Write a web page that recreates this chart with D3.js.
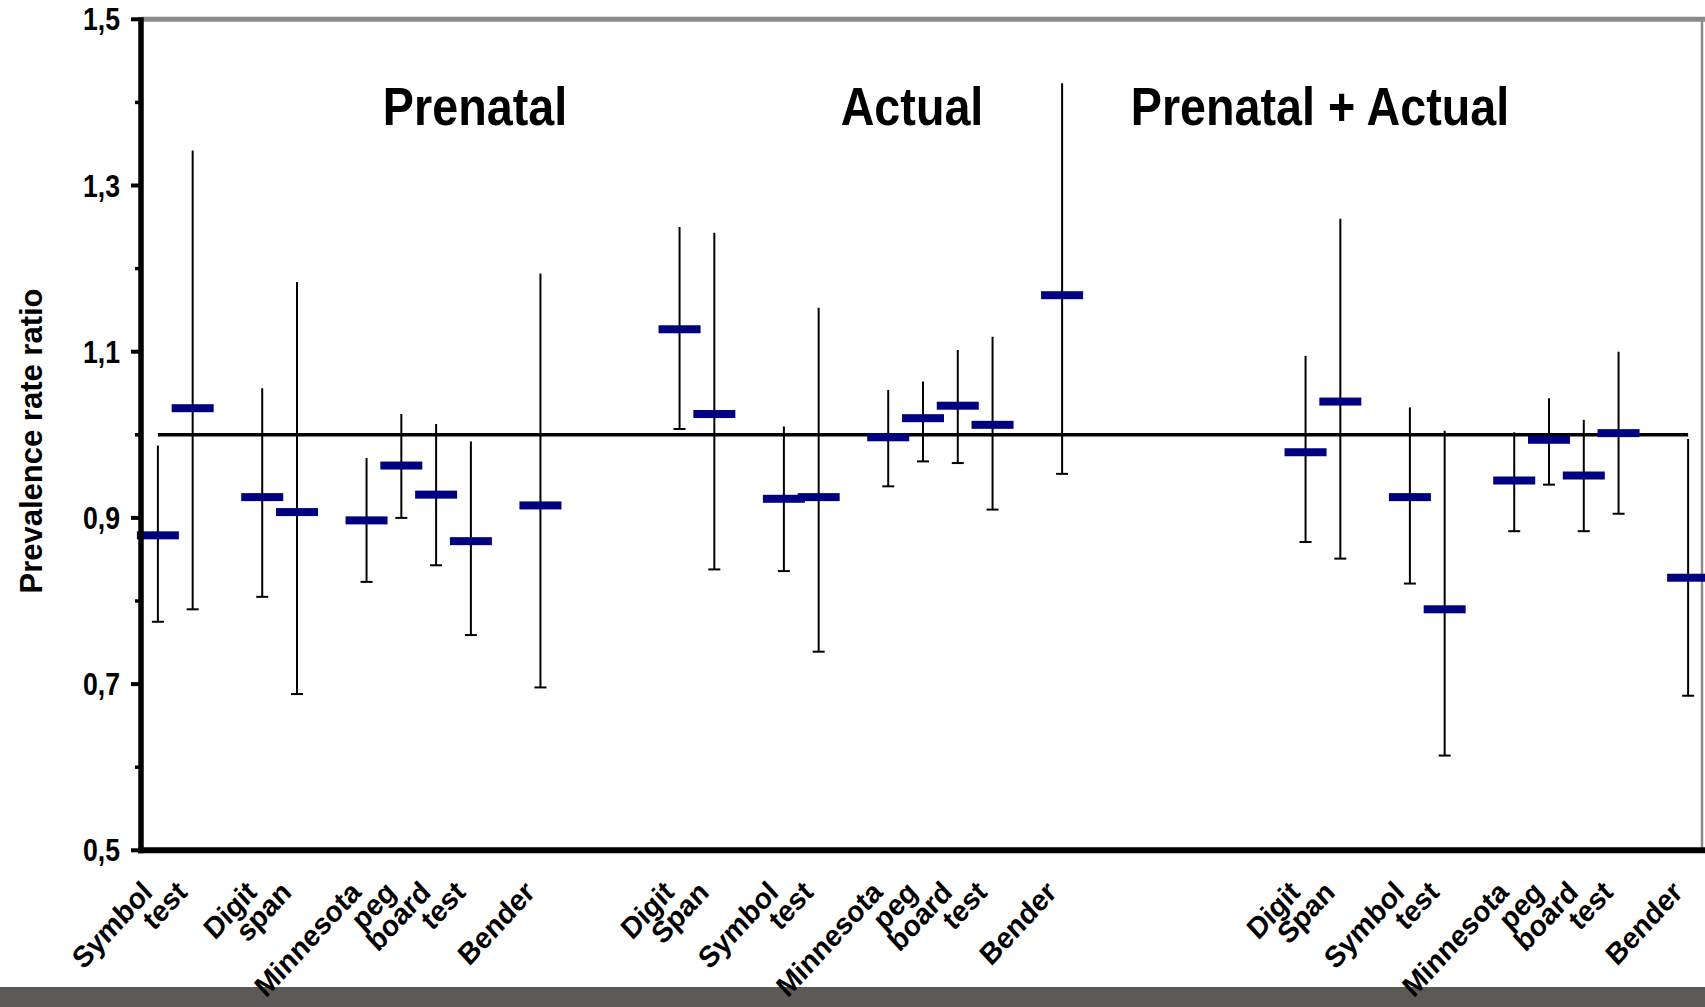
<!DOCTYPE html>
<html>
<head>
<meta charset="utf-8">
<script src="https://cdn.jsdelivr.net/npm/d3@7"></script>
<style>
  html, body { margin: 0; padding: 0; background: #fff; }
  svg { display: block; }
  text { font-family: "Liberation Sans", Arial, sans-serif; font-weight: bold; fill: #000; }
</style>
</head>
<body>
<svg id="chart" width="1705" height="1007"></svg>
<script>
// ---------- data ----------
const categories = ["Symbol","test","","Digit","span","","Minnesota","peg","board","test","","Bender",
  "","","","Digit","Span","","Symbol","test","","Minnesota","peg","board","test","","Bender",
  "","","","","","","Digit","Span","","Symbol","test","","Minnesota","peg","board","test","","Bender"];

const ratio = [0.879,1.032,null,0.925,0.907,null,0.897,0.963,0.928,0.872,null,0.915,
  null,null,null,1.127,1.025,null,0.923,0.925,null,0.997,1.020,1.035,1.012,null,1.168,
  null,null,null,null,null,null,0.979,1.040,null,0.925,0.790,null,0.945,0.994,0.951,1.002,null,0.828];

const lower = [0.775,0.790,null,0.805,0.688,null,0.823,0.900,0.843,0.759,null,0.696,
  null,null,null,1.007,0.838,null,0.836,0.739,null,0.938,0.968,0.966,0.910,null,0.953,
  null,null,null,null,null,null,0.871,0.851,null,0.821,0.614,null,0.884,0.940,0.884,0.905,null,0.686];

const upper = [0.987,1.342,null,1.056,1.184,null,0.972,1.025,1.013,0.992,null,1.194,
  null,null,null,1.250,1.243,null,1.010,1.153,null,1.054,1.064,1.102,1.118,null,1.423,
  null,null,null,null,null,null,1.095,1.260,null,1.033,1.005,null,1.003,1.044,1.018,1.100,null,0.995];

const referenceValue = [1.0];
const groupTitles = ["Prenatal", "Actual", "Prenatal + Actual"];
const yTicks = [0.5, 0.7, 0.9, 1.1, 1.3, 1.5];
const yMinorTicks = [0.6, 0.8, 1.0, 1.2, 1.4];
const yTickLabels = ["0,5", "0,7", "0,9", "1,1", "1,3", "1,5"];
const yTitle = "Prevalence rate ratio";

// ---------- layout ----------
const svg = d3.select("#chart");
const pLeft = 141, pRight = 1705.5, pTop = 19.3, pBottom = 850.3;
const idx = d3.range(categories.length);

const x = d3.scaleBand().domain(idx).range([pLeft - 0.5, pRight]).paddingInner(0).paddingOuter(0);
const y = d3.scaleLinear().domain([0.5, 1.5]).range([pBottom, pTop]);
const cx = i => x(i) + x.bandwidth() / 2;

// bottom grey band
svg.append("rect").attr("x", 0).attr("y", 987).attr("width", 1705).attr("height", 20).attr("fill", "#5b5a56");

// top and right border
svg.append("line").attr("x1", pLeft).attr("x2", 1705).attr("y1", y(1.5)).attr("y2", y(1.5))
  .attr("stroke", "#8a8a8a").attr("stroke-width", 5);
svg.append("line").attr("x1", 1702).attr("x2", 1702).attr("y1", y(1.5)).attr("y2", y(0.5))
  .attr("stroke", "#8a8a8a").attr("stroke-width", 2.5);

// reference line at 1
const refLine = d3.line().x(d => cx(d)).y(() => y(referenceValue[0]));
svg.append("path").attr("d", refLine([0, categories.length - 1]))
  .attr("stroke", "#000").attr("stroke-width", 3.5).attr("fill", "none");

// error bars
const valid = idx.filter(i => ratio[i] != null);
const eb = svg.append("g");
eb.selectAll("line.v").data(valid).join("line").attr("class", "v")
  .attr("x1", cx).attr("x2", cx)
  .attr("y1", i => y(lower[i])).attr("y2", i => y(upper[i]))
  .attr("stroke", "#000").attr("stroke-width", 2);
eb.selectAll("line.cap").data(valid).join("line").attr("class", "cap")
  .attr("x1", i => cx(i) - 6).attr("x2", i => cx(i) + 6)
  .attr("y1", i => y(lower[i])).attr("y2", i => y(lower[i]))
  .attr("stroke", "#000").attr("stroke-width", 2);

// point markers
svg.append("g").selectAll("rect").data(valid).join("rect")
  .attr("x", i => cx(i) - 21).attr("y", i => y(ratio[i]) - 4)
  .attr("width", 42).attr("height", 8).attr("fill", "#000080");

// axes
const yAxis = svg.append("g");
yAxis.append("line").attr("x1", pLeft).attr("x2", pLeft).attr("y1", y(1.5) - 2).attr("y2", y(0.5) + 3)
  .attr("stroke", "#000").attr("stroke-width", 5.5);
yAxis.selectAll("line.maj").data(yTicks).join("line").attr("class", "maj")
  .attr("x1", pLeft - 10).attr("x2", pLeft).attr("y1", d => y(d)).attr("y2", d => y(d))
  .attr("stroke", "#000").attr("stroke-width", 4);
yAxis.selectAll("line.min").data(yMinorTicks).join("line").attr("class", "min")
  .attr("x1", pLeft - 6).attr("x2", pLeft).attr("y1", d => y(d)).attr("y2", d => y(d))
  .attr("stroke", "#000").attr("stroke-width", 3.5);
yAxis.selectAll("text").data(yTicks).join("text")
  .attr("transform", d => `translate(120,${y(d)}) scale(0.86,1)`)
  .attr("text-anchor", "end").attr("dy", "0.36em")
  .style("font-size", "31px")
  .text((d, i) => yTickLabels[i]);

svg.append("line").attr("x1", pLeft - 3).attr("x2", 1705).attr("y1", pBottom).attr("y2", pBottom)
  .attr("stroke", "#000").attr("stroke-width", 6);

// x category labels
svg.append("g").selectAll("text").data(idx.filter(i => categories[i] !== "")).join("text")
  .attr("transform", i => `translate(${cx(i) - 4},894) scale(0.92,1) rotate(-45)`)
  .attr("text-anchor", "end")
  .style("font-size", "30px")
  .text(i => categories[i]);

// y title
svg.append("text")
  .attr("transform", "translate(41.5,441) rotate(-90)")
  .attr("text-anchor", "middle")
  .style("font-size", "31px")
  .text(yTitle);

// group titles
const titleX = [475, 912, 1320];
svg.append("g").selectAll("text").data(groupTitles).join("text")
  .attr("transform", (d, i) => `translate(${titleX[i]},125) scale(0.865,1)`)
  .attr("text-anchor", "middle")
  .style("font-size", "54px")
  .text(d => d);
</script>
</body>
</html>
